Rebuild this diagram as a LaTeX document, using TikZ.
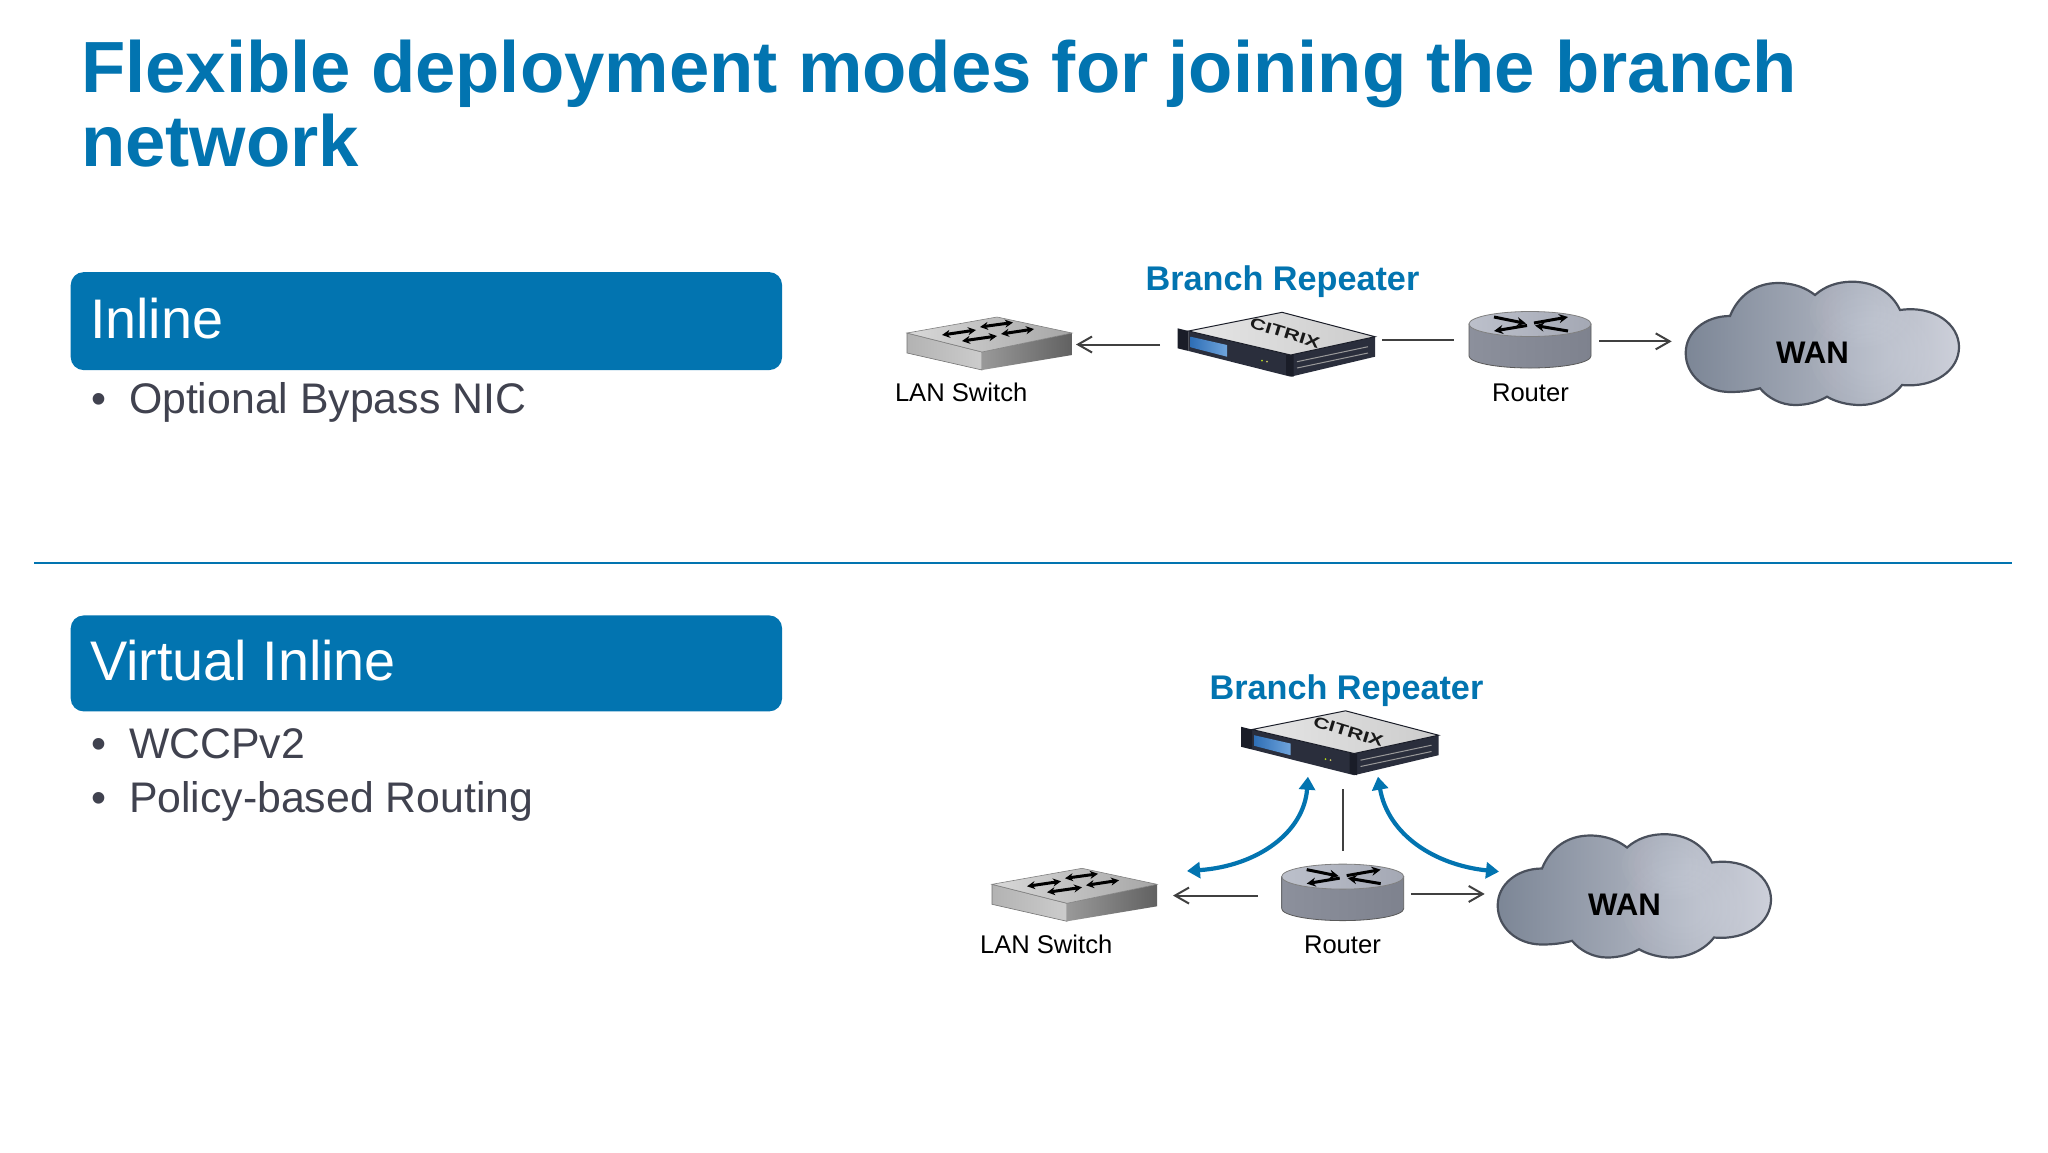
\documentclass[tikz,border=0pt]{standalone}
\usepackage{fontspec}
\setmainfont{Liberation Sans}
\usetikzlibrary{arrows.meta,calc}
\definecolor{dellblue}{HTML}{0274B0}
\definecolor{bodytext}{HTML}{40424F}
\definecolor{connline}{HTML}{404040}
\definecolor{cloudL}{HTML}{7C8696}
\definecolor{cloudM}{HTML}{B2B7C2}
\definecolor{cloudR}{HTML}{CDD0DA}
\definecolor{cloudE}{HTML}{4A505C}
\definecolor{chassis}{HTML}{2A2E3C}
\definecolor{chassisD}{HTML}{1A1D28}
\definecolor{screenL}{HTML}{2F6FB6}
\definecolor{screenR}{HTML}{6FA4DC}
\definecolor{routerL}{HTML}{8C909C}
\definecolor{routerM}{HTML}{B9BCC6}
\definecolor{routerR}{HTML}{7E828E}
\definecolor{routerT}{HTML}{BCC0CB}
\definecolor{routerU}{HTML}{A4A8B4}
\tikzset{
  txt/.style={inner sep=0pt,outer sep=0pt,anchor=base west},
  titletxt/.style={txt,text=dellblue,font=\fontsize{36.25pt}{43pt}\selectfont\bfseries},
  hdrbox/.style={fill=dellblue,rounded corners=6.5pt,minimum width=355.7pt,minimum height=49pt,inner sep=0pt,anchor=north west},
  hdrtxt/.style={txt,text=white,font=\fontsize{27.9pt}{33pt}\selectfont},
  bullettxt/.style={txt,text=bodytext,font=\fontsize{21.4pt}{26pt}\selectfont},
  brtxt/.style={inner sep=0pt,outer sep=0pt,anchor=base,text=dellblue,font=\fontsize{17.1pt}{20pt}\selectfont\bfseries},
  devtxt/.style={txt,text=black,font=\fontsize{12.8pt}{15pt}\selectfont},
  wantxt/.style={txt,text=black,font=\fontsize{15.6pt}{18pt}\selectfont\bfseries},
  devbox/.style={inner sep=0pt,outer sep=0pt},
  conn/.style={draw=connline,line width=1pt},
  connarrow/.style={conn,-{Straight Barb[length=7pt,width=8pt,line width=1pt]}},
  bluearc/.style={draw=dellblue,line width=2.1pt,{Triangle[length=6.5pt,width=8pt]}-{Triangle[length=6.5pt,width=8pt]}},
  iconarrow/.style={draw=black,line width=1.5pt,-{Stealth[length=4.5pt,width=4.5pt]}},
  iconarrowb/.style={draw=black,line width=1.5pt,{Stealth[length=4pt,width=4pt]}-{Stealth[length=4pt,width=4pt]}},
}
% LAN switch icon
\newcommand{\switchicon}[3]{%
\begin{scope}[shift={(#2,#3)}]
  \shade[left color=black!30!white,right color=black!20!white,draw=black!55!white,line width=.3pt]
    (907,333) -- (982,352) -- (982,370) -- (907,353) -- cycle;
  \shade[left color=black!40!white,right color=black!62!white]
    (982,352) -- (1072,333) -- (1072,355) -- (982,370) -- cycle;
  \shade[left color=black!15!white,right color=black!35!white,draw=black!50!white,line width=.3pt]
    (907,333) -- (997,317) -- (1072,333) -- (982,352) -- cycle;
  \draw[iconarrowb] (942,335) -- (976,330);
  \draw[iconarrowb] (980,327) -- (1013,322.5);
  \draw[iconarrowb] (962,341) -- (997,336);
  \draw[iconarrowb] (1001,334) -- (1034,329);
  \node[devbox,minimum width=82.5pt,minimum height=26.5pt] (#1) at (989.5,343.5) {};
\end{scope}}
% Branch repeater icon
\newcommand{\repeatericon}[3]{%
\begin{scope}[shift={(#2,#3)}]
  \fill[chassis] (1290.6,355) -- (1375,336.7) -- (1375,356.7) -- (1290.6,376.7) -- cycle;
  \draw[black!40!white,line width=.5pt] (1297,361.7) -- (1368,346.7) (1297,368) -- (1368,353);
  \fill[chassis] (1188.6,331) -- (1290.6,355) -- (1290.6,376.7) -- (1188.6,351) -- cycle;
  \fill[chassisD] (1177.5,328.3) -- (1188.6,331) -- (1188.6,351) -- (1177.5,348.3) -- cycle;
  \fill[chassisD] (1286,354) -- (1293.5,355) -- (1293.5,376.7) -- (1286,375) -- cycle;
  \shade[left color=screenL,right color=screenR]
    (1190.6,336.7) -- (1227,345) -- (1227,356.7) -- (1190.6,347.3) -- cycle;
  \fill[yellow!70!green] (1262,360.7) circle[radius=1];
  \fill[yellow!50!gray] (1267,361.7) circle[radius=1];
  \shade[left color=black!10!white,right color=black!20!white,draw=chassisD,line width=.5pt]
    (1188.6,331) -- (1282,312.3) -- (1375,336.7) -- (1290.6,355) -- cycle;
  \node[inner sep=0pt,rotate=-17,text=black!90!white,font=\fontsize{11pt}{12pt}\selectfont\bfseries] (#1logo) at (1285,333) {\scalebox{1}[.7]{CITRIX}};
  \node[devbox,minimum width=98.75pt,minimum height=32.2pt] (#1) at (1276.25,344.5) {};
\end{scope}}
% Router icon
\newcommand{\routericon}[3]{%
\begin{scope}[shift={(#2,#3)}]
  \shade[left color=routerL,middle color=routerM,right color=routerR,draw=black!65!white,line width=.4pt]
    (1469,324) -- (1469,356) arc[start angle=180,end angle=0,x radius=61,y radius=12] -- (1591,324) -- cycle;
  \shade[left color=routerT,right color=routerU,draw=black!50!white,line width=.4pt]
    (1530,324) ellipse[x radius=61,y radius=12.5];
  \draw[iconarrow] (1494,317) -- (1526,323.5);
  \draw[iconarrow] (1527,325.5) -- (1494,331);
  \draw[iconarrow] (1534,323) -- (1568,317);
  \draw[iconarrow] (1568,331) -- (1535,325.5);
  \node[devbox,minimum width=61pt,minimum height=28.5pt] (#1) at (1530,339.75) {};
\end{scope}}
% WAN cloud icon
\newcommand{\cloudpath}{(1730,316) .. controls (1738,296) and (1755,283) .. (1778,283) .. controls (1794,283) and (1806,288) .. (1815,295)
  .. controls (1825,286) and (1838,281.7) .. (1852,281.7) .. controls (1875,281.7) and (1892,293) .. (1900,310)
  .. controls (1935,305) and (1959,325) .. (1959,347) .. controls (1959,370) and (1935,388) .. (1902,385)
  .. controls (1892,398) and (1875,405) .. (1860,405) .. controls (1848,405) and (1836,402) .. (1827,396.7)
  .. controls (1818,402) and (1807,405) .. (1795,405) .. controls (1781,405) and (1768,398) .. (1760,388.3)
  .. controls (1750,391) and (1740,392) .. (1730,392) .. controls (1705,392) and (1685.7,375) .. (1685.7,353) .. controls (1685.7,332) and (1705,316) .. (1730,316) -- cycle}
\newcommand{\cloudicon}[3]{%
\begin{scope}[shift={(#2,#3)}]
  \begin{scope}
    \clip \cloudpath;
    \shade[left color=cloudL,middle color=cloudM,right color=cloudR]
      (1685,275) rectangle (1960,410);
    \foreach \r in {50,44,38,32,26,20}{
      \fill[white,opacity=.025] (1870,355) ellipse[x radius=\r*1.2,y radius=\r];
      \fill[white,opacity=.025] (1860,312) ellipse[x radius=\r*1.0,y radius=\r*.7];
    }
  \end{scope}
  \draw[cloudE,line width=1.1pt] \cloudpath;
  \node[devbox,minimum width=136.65pt,minimum height=61.65pt] (#1) at (1822.35,343.35) {};
\end{scope}}
\begin{document}
\begin{tikzpicture}[x=.5pt,y=-.5pt]
\useasboundingbox (0,0) rectangle (2048,1152);
\fill[white] (0,0) rectangle (2048,1152);

% Title
\node[titletxt] (title1) at (81,92) {Flexible deployment modes for joining the branch};
\node[titletxt] (title2) at (81,166) {network};

% Divider
\coordinate (divl) at (34,563);
\coordinate (divr) at (2012,563);
\draw[dellblue,line width=.7pt] (divl) -- (divr);

% Left column
\node[hdrbox] (hdr1) at (70.3,271.7) {};
\node[hdrtxt] (hdr1t) at (90,338) {Inline};
\node[bullettxt] (b1) at (91,413.5) {•};
\node[bullettxt] (t1) at (129,413.5) {Optional Bypass NIC};

\node[hdrbox,minimum height=48pt] (hdr2) at (70.3,615) {};
\node[hdrtxt] (hdr2t) at (90,680.5) {Virtual Inline};
\node[bullettxt] (b2) at (91,758) {•};
\node[bullettxt] (t2) at (129,758) {WCCPv2};
\node[bullettxt] (b3) at (91,812.5) {•};
\node[bullettxt] (t3) at (129,812.5) {Policy-based Routing};

% Inline diagram
\switchicon{sw1}{0}{0}
\repeatericon{rep1}{0}{0}
\routericon{r1}{0}{0}
\cloudicon{wan1}{0}{0}
\node[brtxt] (br1) at (1282.5,290) {Branch Repeater};
\node[devtxt] (lan1) at (895,401.7) {LAN Switch};
\node[devtxt] (rt1) at (1492,401.7) {Router};
\node[wantxt] (wl1) at (1776,363) {WAN};
\draw[connarrow,shorten <=8.75pt,shorten >=2pt] (rep1.west) -- (rep1.west -| sw1.east);
\draw[conn,shorten <=3.5pt,shorten >=7.5pt] (rep1.east |- r1.west) -- (r1.west);
\draw[connarrow,shorten <=4pt,shorten >=7pt] ([yshift=-.8pt]r1.east) -- ([yshift=-.8pt]r1.east -| wan1.west);

% Virtual inline diagram
\switchicon{sw2}{85}{551.3}
\repeatericon{rep2}{63.5}{398.5}
\routericon{r2}{-187.3}{552.6}
\cloudicon{wan2}{-188}{552.5}
\node[brtxt] (br2) at (1346.5,699) {Branch Repeater};
\node[devtxt] (lan2) at (980,953) {LAN Switch};
\node[devtxt] (rt2) at (1304,953) {Router};
\node[wantxt] (wl2) at (1588,915.5) {WAN};
\draw[connarrow,shorten <=12pt,shorten >=8pt] ([yshift=-1.6pt]r2.west) -- ([yshift=-1.6pt]r2.west -| sw2.east);
\draw[connarrow,shorten <=3.6pt,shorten >=6.5pt] ([yshift=-.8pt]r2.east) -- ([yshift=-.8pt]r2.east -| wan2.west);
\draw[conn,shorten <=6.5pt,shorten >=7pt] (r2.north) -- (r2.north |- rep2.south);
\draw[bluearc] ([xshift=-15.9pt,yshift=-.75pt]rep2.south) .. controls (1304,832) and (1258,866) .. ([xshift=56.25pt,yshift=-1.35pt]sw2.north);
\draw[bluearc] ([xshift=19.1pt,yshift=-.75pt]rep2.south) .. controls (1388,835) and (1435,865) .. ([xshift=.65pt,yshift=12.1pt]wan2.west);
\end{tikzpicture}
\end{document}
